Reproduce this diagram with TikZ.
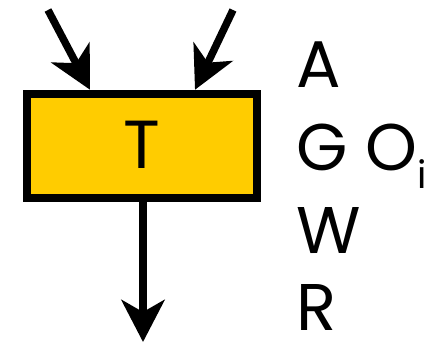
\documentclass[tikz,border=0pt]{standalone}
\usepackage{fontspec}
\setmainfont{Poppins}
\usetikzlibrary{arrows.meta}
\definecolor{boxyellow}{HTML}{FFCC00}
\tikzset{
  flow/.style={line width=7.5pt, -{Stealth[length=42pt, width=43pt, inset=12pt]}},
  block/.style={draw, line width=8.5pt, fill=boxyellow, minimum width=230pt,
    minimum height=104pt, inner sep=0pt},
  lbl/.style={anchor=base west, inner sep=0pt, text depth=0pt,
    font=\fontsize{66}{66}\selectfont}
}
\begin{document}
\begin{tikzpicture}[x=1pt, y=-1pt]
  \useasboundingbox (0,0) rectangle (433,342);
  % task block
  \node[block] (t) at (142,146) {};
  \node[inner sep=0pt, anchor=base, font=\fontsize{68}{68}\selectfont] (tl) at (142,168) {T};
  % inputs and output
  \coordinate (in1) at (48,10);
  \coordinate (in2) at (233,10);
  \coordinate (x1) at (90,0);
  \coordinate (x2) at (195,0);
  \coordinate (x3) at (143,0);
  \coordinate (out) at (143,342);
  \draw[flow] (in1) -- (x1 |- t.north);
  \draw[flow] (in2) -- (x2 |- t.north);
  \draw[flow] (x3 |- t.south) -- (out);
  % labels
  \node[lbl] (la) at (296,88) {A};
  \node[lbl] (lg) at (296,170) {G O\kern0.5pt\raisebox{-18pt}{\fontsize{38}{38}\selectfont i}};
  \node[lbl] (lw) at (296,253) {W};
  \node[lbl] (lr) at (296,330) {R};
\end{tikzpicture}
\end{document}
